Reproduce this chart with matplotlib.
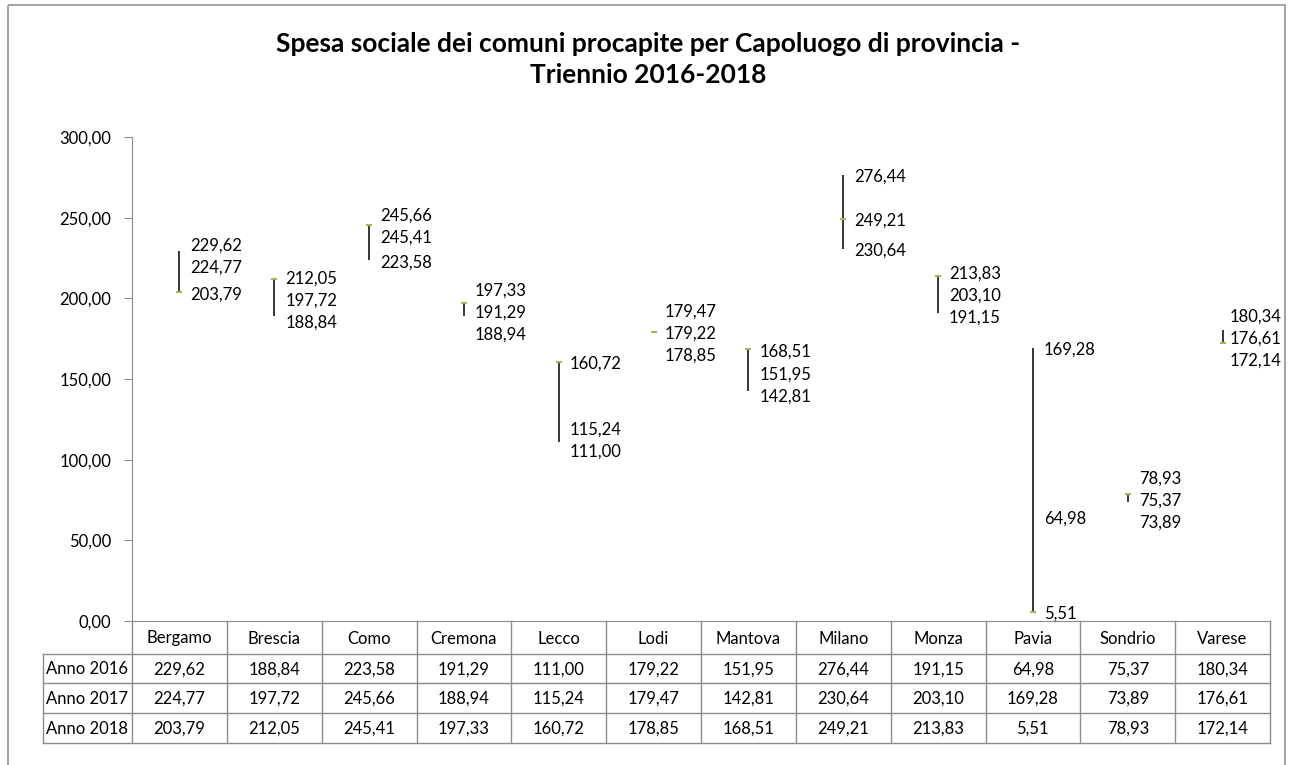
import numpy as np
import matplotlib.pyplot as plt
from matplotlib.patches import Rectangle

plt.rcParams['font.family'] = ['Lato', 'DejaVu Sans']

# data
cities = ["Bergamo", "Brescia", "Como", "Cremona", "Lecco", "Lodi",
          "Mantova", "Milano", "Monza", "Pavia", "Sondrio", "Varese"]
row_labels = ["Anno 2016", "Anno 2017", "Anno 2018"]
anno_2016 = [229.62, 188.84, 223.58, 191.29, 111.00, 179.22,
             151.95, 276.44, 191.15, 64.98, 75.37, 180.34]
anno_2017 = [224.77, 197.72, 245.66, 188.94, 115.24, 179.47,
             142.81, 230.64, 203.10, 169.28, 73.89, 176.61]
anno_2018 = [203.79, 212.05, 245.41, 197.33, 160.72, 178.85,
             168.51, 249.21, 213.83, 5.51, 78.93, 172.14]
y_ticks = [0, 50, 100, 150, 200, 250, 300]

W, H = 1293, 765
GRAY = "#8c8c8c"
FS = 12


def fmt(v):
    return f"{v:,.2f}".replace(",", "X").replace(".", ",").replace("X", ".")


def spread(pix, gap):
    # push labels apart (in pixels), centring each overlapping cluster
    order = np.argsort(pix)
    groups = [[pix[i]] for i in order]
    idx = [[i] for i in order]
    changed = True
    while changed:
        changed = False
        for k in range(len(groups) - 1):
            c0 = np.mean(groups[k]) + gap * (len(groups[k]) - 1) / 2
            c1 = np.mean(groups[k + 1]) - gap * (len(groups[k + 1]) - 1) / 2
            if c1 - c0 < gap:
                groups[k] = groups[k] + groups[k + 1]
                idx[k] = idx[k] + idx[k + 1]
                del groups[k + 1], idx[k + 1]
                changed = True
                break
    out = np.zeros(len(pix))
    for g, ii in zip(groups, idx):
        m = np.mean(g)
        n = len(g)
        for j, i in enumerate(ii):
            out[i] = m + gap * (j - (n - 1) / 2)
    return out


def main():
    fig = plt.figure(figsize=(W / 100, H / 100), dpi=100)

    # background layer in pixel coordinates for border, title and table
    bg = fig.add_axes([0, 0, 1, 1])
    bg.set_xlim(0, W)
    bg.set_ylim(H, 0)
    bg.axis("off")
    bg.add_patch(Rectangle((8, 5), 1277, 800, fill=False, edgecolor="#a6a6a6", linewidth=1.5))
    bg.text(648, 44, "Spesa sociale dei comuni procapite per Capoluogo di provincia -",
            ha="center", va="center", fontsize=19, fontweight="bold")
    bg.text(648, 75, "Triennio 2016-2018", ha="center", va="center",
            fontsize=19, fontweight="bold")

    left, right, top, bottom = 132, 1270, 137, 621
    ax = fig.add_axes([left / W, 1 - bottom / H, (right - left) / W, (bottom - top) / H])
    ax.set_facecolor("none")
    n = len(cities)
    ax.set_xlim(0, n)
    ax.set_ylim(0, 300)
    x = np.arange(n) + 0.5

    data = np.array([anno_2016, anno_2017, anno_2018])
    ax.vlines(x, data.min(axis=0), data.max(axis=0), color="black", linewidth=1.1)
    ax.plot(x, anno_2018, linestyle="none", marker="_", markersize=4,
            markeredgewidth=1.5, color="#9bbb59")

    renderer = fig.canvas.get_renderer()
    px_per_unit = (bottom - top) / 300
    for i in range(n):
        vals = data[:, i]
        pix = -vals * px_per_unit
        pos = spread(pix, 22)
        for j, v in enumerate(vals):
            dy = -(pos[j] - pix[j]) - 2
            t = ax.annotate(fmt(v), xy=(x[i], v), xytext=(11 * 0.72, dy * 0.72),
                            textcoords="offset points", ha="left", va="center",
                            fontsize=FS)
            # keep labels inside the chart border like Excel does
            x1 = t.get_window_extent(renderer).x1
            if x1 > 1281:
                t.set_position((11 * 0.72 - (x1 - 1281) * 0.72, dy * 0.72))

    for s in ["top", "right"]:
        ax.spines[s].set_visible(False)
    ax.spines["left"].set_color(GRAY)
    ax.spines["bottom"].set_color(GRAY)
    ax.set_yticks(y_ticks)
    ax.set_yticklabels([fmt(t) for t in y_ticks], fontsize=FS)
    ax.tick_params(axis="y", direction="out", length=6, color=GRAY, pad=9)
    ax.set_xticks([])

    # data table
    cw = (right - left) / n
    rows = [621, 654, 683, 713, 743]
    for k in range(n + 1):
        bg.plot([left + k * cw] * 2, [rows[0], rows[-1]], color=GRAY, lw=1)
    for r in rows[1:]:
        bg.plot([43, right], [r, r], color=GRAY, lw=1)
    bg.plot([43, 43], [rows[1], rows[-1]], color=GRAY, lw=1)
    for k, name in enumerate(cities):
        cx = left + (k + 0.5) * cw
        bg.text(cx, (rows[0] + rows[1]) / 2 + 1, name, ha="center", va="center", fontsize=FS)
        for r in range(3):
            cy = (rows[r + 1] + rows[r + 2]) / 2 + 1
            bg.text(cx, cy, fmt(data[r, k]), ha="center", va="center", fontsize=FS)
    for r, lab in enumerate(row_labels):
        cy = (rows[r + 1] + rows[r + 2]) / 2 + 1
        bg.text((43 + left) / 2, cy, lab, ha="center", va="center", fontsize=FS)

    fig.savefig("out.png", dpi=100)


if __name__ == "__main__":
    main()
